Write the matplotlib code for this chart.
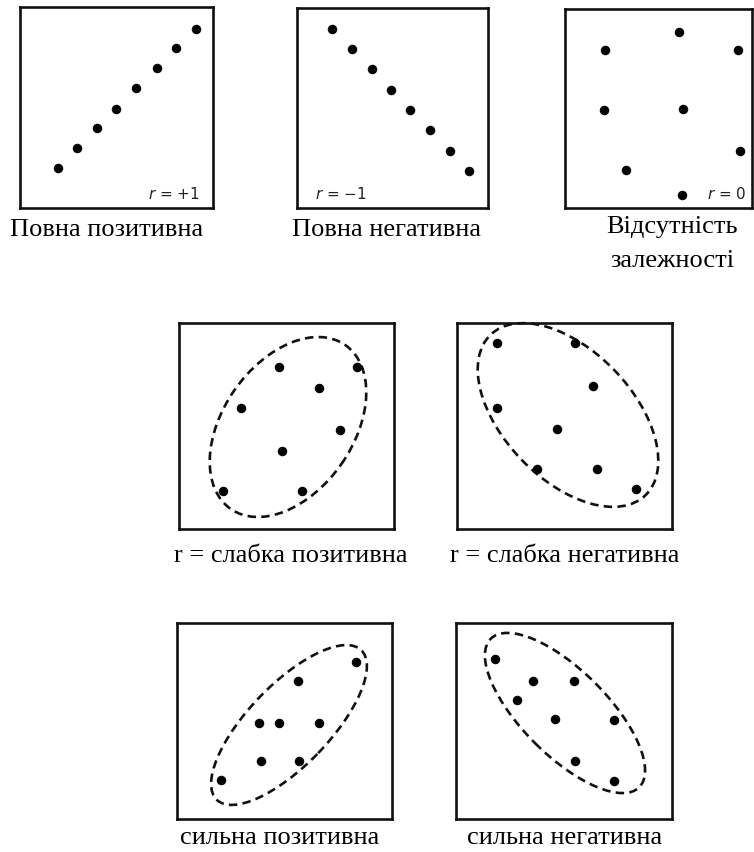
"""Схеми типів кореляційної залежності (діаграми розсіювання)."""

import matplotlib

matplotlib.use("Agg")
import matplotlib.pyplot as plt
from matplotlib.patches import Ellipse

plt.rcParams["mathtext.fontset"] = "dejavusans"

# --- дані (одиниці: 1 = 20 px, початок - лівий нижній кут рамки) ---
full_pos_x = [1.9, 2.85, 3.85, 4.8, 5.8, 6.85, 7.8, 8.8]
full_pos_y = [2.0, 3.0, 4.0, 4.95, 6.0, 7.0, 8.0, 8.95]

full_neg_x = [1.75, 2.75, 3.75, 4.7, 5.65, 6.65, 7.65, 8.6]
full_neg_y = [8.95, 7.95, 6.95, 5.9, 4.9, 3.9, 2.85, 1.85]

none_x = [5.7, 2.0, 8.65, 1.95, 5.9, 8.75, 3.05, 5.85]
none_y = [8.8, 7.9, 7.9, 4.9, 4.95, 2.85, 1.9, 0.65]

weak_pos_x = [5.0, 8.9, 7.0, 3.1, 8.05, 5.15, 2.2, 6.15]
weak_pos_y = [8.1, 8.1, 7.05, 6.05, 4.95, 3.9, 1.9, 1.9]

weak_neg_x = [2.0, 5.9, 6.8, 2.0, 5.0, 4.0, 7.0, 8.95]
weak_neg_y = [9.3, 9.3, 7.15, 6.05, 5.0, 3.0, 3.0, 2.0]

strong_pos_x = [8.95, 6.05, 4.1, 5.1, 7.1, 4.2, 6.1, 2.2]
strong_pos_y = [7.85, 6.9, 4.8, 4.8, 4.8, 2.9, 2.9, 1.95]

strong_neg_x = [1.95, 3.85, 5.9, 3.05, 4.95, 7.9, 5.95, 7.9]
strong_neg_y = [8.0, 6.9, 6.9, 5.95, 5.0, 4.95, 2.9, 1.9]

r_labels = ["= +1", "= \u22121", "= 0"]
captions = [
    "Повна позитивна",
    "Повна негативна",
    "Відсутність\nзалежності",
    "r = слабка позитивна",
    "r = слабка негативна",
    "сильна позитивна",
    "сильна негативна",
]

# --- розмітка в пікселях ---
W, H = 754, 852
UNIT = 20.0
# (ліво, верх, ширина, висота) рамки
boxes = [
    (20, 7, 193, 201),
    (297, 8, 191, 200),
    (565, 9, 187, 199),
    (179, 323, 215, 206),
    (457, 323, 215, 206),
    (177, 623, 215, 196),
    (456, 623, 216, 196),
]
# (центр x, центр y, ширина, висота, кут) еліпсів у даних
ellipses = {
    3: (5.45, 5.1, 10.0, 6.5, 55),
    4: (5.55, 5.7, 11.15, 6.45, -46),
    5: (5.6, 4.7, 10.4, 4.05, 46),
    6: (5.45, 5.3, 10.5, 4.25, -45),
}
caption_pos = [(107, 236), (387, 236), (672, 233), (291, 562),
               (565, 562), (280, 844), (565, 844)]

points = [
    (full_pos_x, full_pos_y),
    (full_neg_x, full_neg_y),
    (none_x, none_y),
    (weak_pos_x, weak_pos_y),
    (weak_neg_x, weak_neg_y),
    (strong_pos_x, strong_pos_y),
    (strong_neg_x, strong_neg_y),
]

fig = plt.figure(figsize=(W / 100, H / 100), dpi=100)
fig.patch.set_facecolor("white")

serif = "Liberation Serif"
cap_size = 19

for i, ((xs, ys), (left, top, w, h)) in enumerate(zip(points, boxes)):
    ax = fig.add_axes([left / W, (H - top - h) / H, w / W, h / H])
    ax.set_xlim(0, w / UNIT)
    ax.set_ylim(0, h / UNIT)
    ax.set_xticks([])
    ax.set_yticks([])
    for sp in ax.spines.values():
        sp.set_linewidth(1.9)
        sp.set_color("#111111")
    ax.scatter(xs, ys, s=34, color="black", zorder=3, clip_on=False)
    if i in ellipses:
        cx, cy, ew, eh, ang = ellipses[i]
        ax.add_patch(Ellipse((cx, cy), ew, eh, angle=ang, fill=False,
                             edgecolor="#111111", linewidth=1.9,
                             linestyle=(0, (3.2, 2.0)), clip_on=False))

    if i == 0:
        ax.text(9.0, 0.72, r"$\mathit{r}$ " + r_labels[0], ha="right",
                va="center", fontsize=11, color="#222222")
    elif i == 1:
        ax.text(0.9, 0.72, r"$\mathit{r}$ " + r_labels[1], ha="left",
                va="center", fontsize=11, color="#222222")
    elif i == 2:
        ax.text(9.05, 0.72, r"$\mathit{r}$ " + r_labels[2], ha="right",
                va="center", fontsize=11, color="#222222")

for text, (x, y) in zip(captions, caption_pos):
    if "\n" in text:
        first, second = text.split("\n")
        fig.text(x / W, (H - y) / H, first, ha="center", va="baseline",
                 family=serif, fontsize=cap_size)
        fig.text(x / W, (H - y - 34) / H, second, ha="center",
                 va="baseline", family=serif, fontsize=cap_size)
    else:
        fig.text(x / W, (H - y) / H, text, ha="center", va="baseline",
                 family=serif, fontsize=cap_size)

fig.savefig("out.png", dpi=100, facecolor="white")
